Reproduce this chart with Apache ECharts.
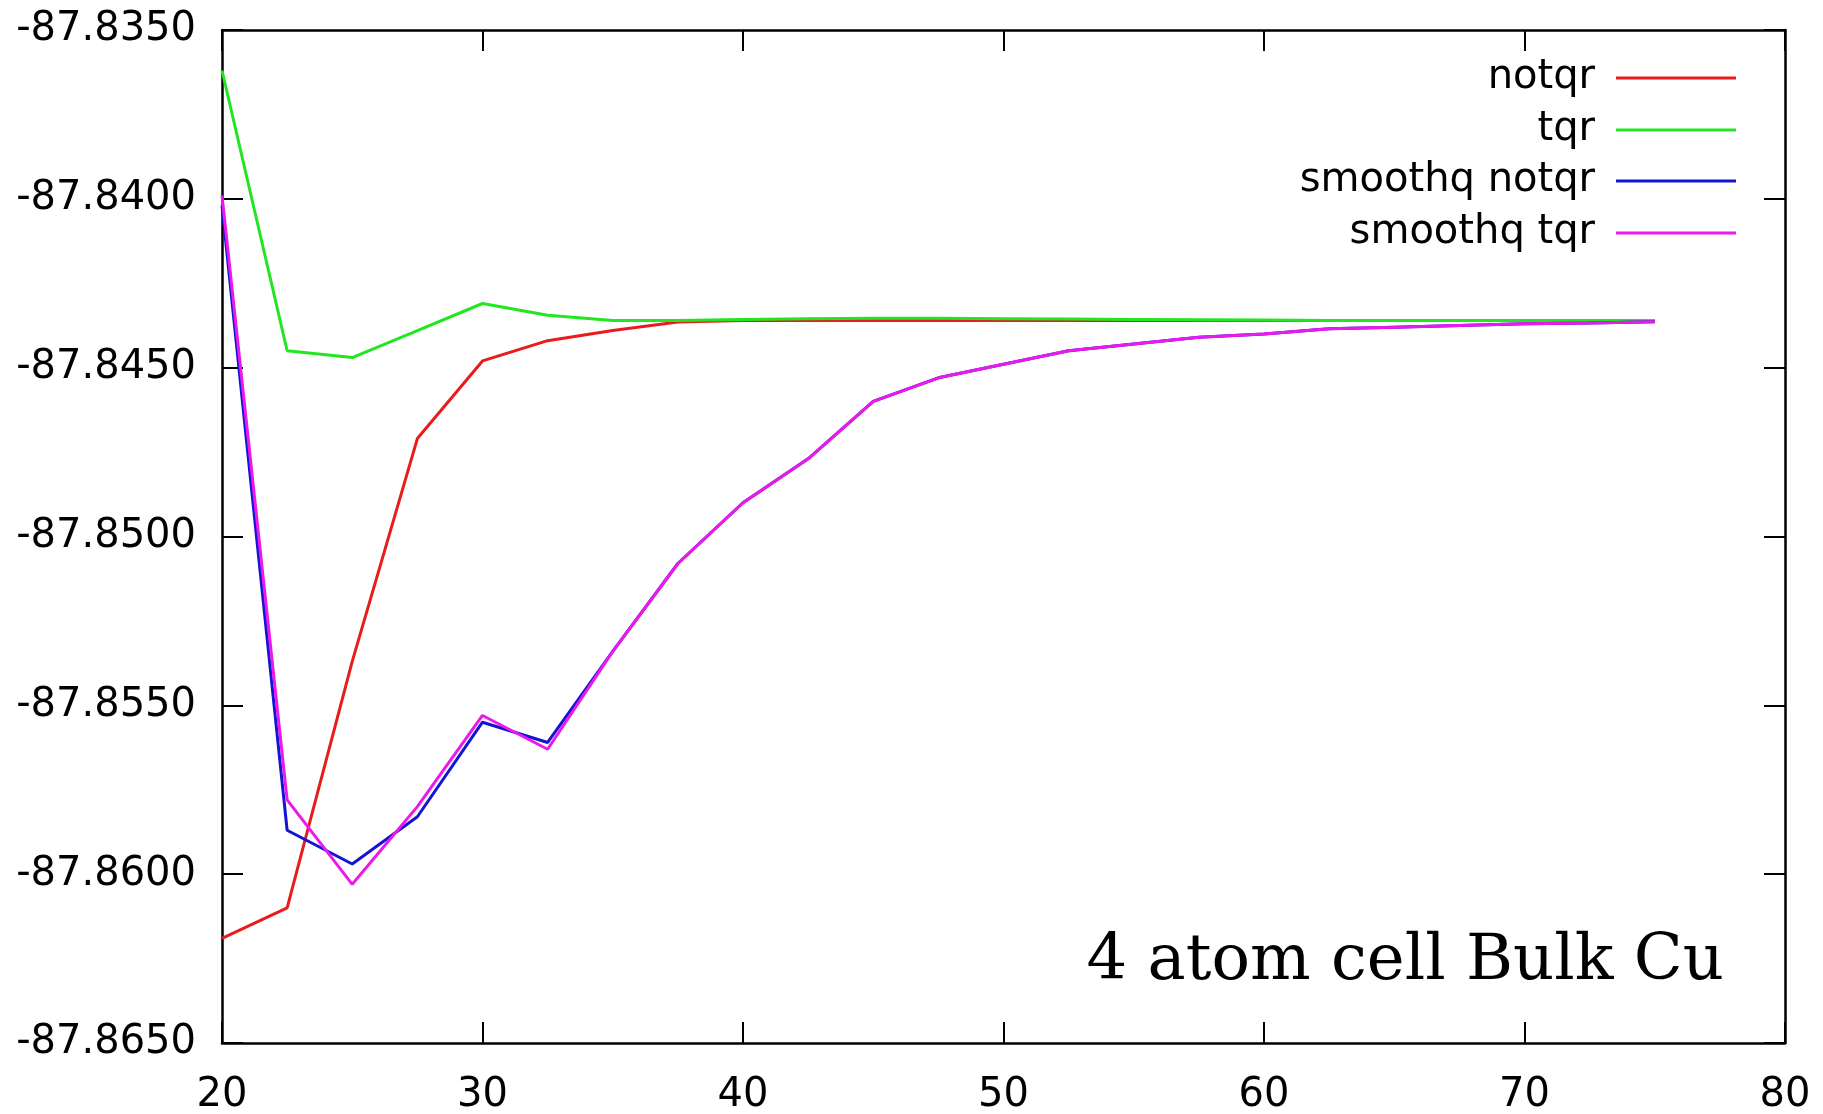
<!DOCTYPE html>
<html>
<head>
<meta charset="utf-8">
<title>4 atom cell Bulk Cu</title>
<script src="https://cdn.jsdelivr.net/npm/echarts@6/dist/echarts.min.js"></script>
<style>
html, body { margin: 0; padding: 0; background: #fff; }
#chart { width: 1823px; height: 1114px; }
</style>
</head>
<body>
<div id="chart"></div>
<script>
// cutoff values on the x axis
const cutoffs = [20, 22.5, 25, 27.5, 30, 32.5, 35, 37.5, 40, 42.5, 45, 47.5, 50,
                 52.5, 55, 57.5, 60, 62.5, 65, 67.5, 70, 72.5, 75]

const notqr = [-87.8619, -87.8610, -87.8537, -87.8471, -87.8448, -87.8442, -87.8439, -87.84365,
               -87.8436, -87.8436, -87.8436, -87.8436, -87.8436, -87.8436, -87.8436, -87.8436,
               -87.8436, -87.8436, -87.8436, -87.8436, -87.8436, -87.8436, -87.8436]

const tqr = [-87.8362, -87.8445, -87.8447, -87.8439, -87.8431, -87.84345, -87.8436, -87.8436,
             -87.84357, -87.84355, -87.84354, -87.84354, -87.84355, -87.84356, -87.84357, -87.84358,
             -87.84359, -87.8436, -87.8436, -87.8436, -87.8436, -87.8436, -87.8436]

const smoothNotqr = [-87.8402, -87.8587, -87.8597, -87.8583, -87.8555, -87.8561, -87.8534, -87.8508,
                     -87.8490, -87.8477, -87.8460, -87.8453, -87.8449, -87.8445, -87.8443, -87.8441,
                     -87.8440, -87.84385, -87.8438, -87.84375, -87.8437, -87.84368, -87.84364]

const smoothTqr = [-87.8399, -87.8578, -87.8603, -87.8580, -87.8553, -87.8563, -87.8534, -87.8508,
                   -87.8490, -87.8477, -87.8460, -87.8453, -87.8449, -87.8445, -87.8443, -87.8441,
                   -87.8440, -87.84385, -87.8438, -87.84375, -87.8437, -87.84368, -87.84364]

const seriesNames = ['notqr', 'tqr', 'smoothq notqr', 'smoothq tqr']
const seriesColors = ['#e81c1c', '#22e622', '#1414d2', '#ec19ec']
const seriesValues = [notqr, tqr, smoothNotqr, smoothTqr]

const font = 'DejaVu Sans'
const chart = echarts.init(document.getElementById('chart'))

const frameLine = { show: true, onZero: false, lineStyle: { color: '#000', width: 2.5 } }
const innerTick = { show: true, inside: true, length: 21, lineStyle: { color: '#000', width: 2 } }

const legendRows = [53, 105, 156, 208]

const option = {
    animation: false,
    backgroundColor: '#fff',
    title: {
        text: '4 atom cell Bulk Cu',
        right: 94,
        top: 925,
        textStyle: { fontFamily: 'DejaVu Serif', fontSize: 64, fontWeight: 'normal', color: '#000' }
    },
    legend: seriesNames.map((name, i) => ({
        data: [name],
        right: 82,
        top: legendRows[i],
        align: 'right',
        icon: 'rect',
        itemWidth: 120,
        itemHeight: 3,
        selectedMode: false,
        textStyle: { fontFamily: font, fontSize: 40, color: '#000', padding: [0, 16, 0, 0] }
    })),
    grid: { left: 222, right: 38, top: 30, bottom: 71, outerBoundsMode: 'none' },
    xAxis: [
        {
            type: 'value', min: 20, max: 80, interval: 10, position: 'bottom',
            axisLine: frameLine, axisTick: innerTick, splitLine: { show: false },
            axisLabel: { fontFamily: font, fontSize: 40, color: '#000', margin: 33 }
        },
        {
            type: 'value', min: 20, max: 80, interval: 10, position: 'top',
            axisLine: frameLine, axisTick: innerTick, splitLine: { show: false },
            axisLabel: { show: false }
        }
    ],
    yAxis: [
        {
            type: 'value', min: -87.865, max: -87.835, interval: 0.005, position: 'left',
            axisLine: frameLine, axisTick: innerTick, splitLine: { show: false },
            axisLabel: {
                fontFamily: font, fontSize: 40, color: '#000', margin: 26,
                formatter: v => v.toFixed(4)
            }
        },
        {
            type: 'value', min: -87.865, max: -87.835, interval: 0.005, position: 'right',
            axisLine: frameLine, axisTick: innerTick, splitLine: { show: false },
            axisLabel: { show: false }
        }
    ],
    series: seriesNames.map((name, i) => ({
        name: name,
        type: 'line',
        xAxisIndex: 0,
        yAxisIndex: 0,
        showSymbol: false,
        symbol: 'none',
        color: seriesColors[i],
        lineStyle: { width: 3, color: seriesColors[i] },
        data: cutoffs.map((x, j) => [x, seriesValues[i][j]]),
        z: 2 + i
    }))
}

chart.setOption(option)
</script>
</body>
</html>
